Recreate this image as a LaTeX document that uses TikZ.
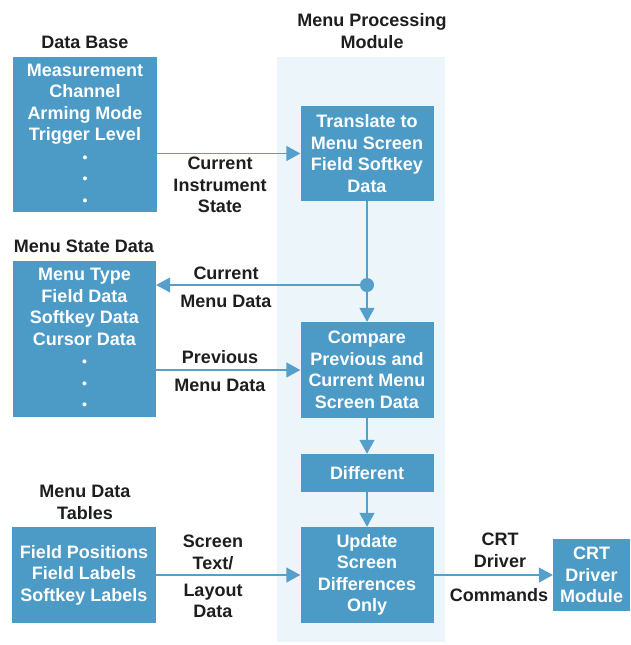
\documentclass[tikz,border=0pt]{standalone}
\usepackage{fontspec}
\setmainfont{Liberation Sans}
\usetikzlibrary{arrows.meta,positioning,calc}
\definecolor{hpblue}{RGB}{76,154,198}
\definecolor{hpline}{RGB}{84,160,202}
\definecolor{hppanel}{RGB}{236,245,250}
\definecolor{hpink}{RGB}{30,30,30}

\tikzset{
  blk/.style={fill=hpblue,text=white,align=center,inner sep=0pt,
    font=\fontsize{18}{21.5}\selectfont\bfseries},
  lbl/.style={text=hpink,align=center,inner sep=0pt,
    font=\fontsize{18}{21.5}\selectfont\bfseries},
  flow/.style={hpline,line width=1.4pt,-{Triangle[length=14pt,width=15pt]}},
}
\newcommand{\vdot}{{\fontsize{14}{21.5}\selectfont\textbullet}}

\begin{document}
\begin{tikzpicture}[x=1pt,y=-1pt]
    \useasboundingbox (0,0) rectangle (631,645);
    % module panel
    \fill[hppanel] (277,57) rectangle (445,642);
    \node[lbl] (modtitle) at (372,31) {Menu Processing\\Module};

    % data stores on the left
    \node[lbl] (dbtitle) at (85,42) {Data Base};
    \node[blk,minimum width=144pt,minimum height=155pt] (db) at (85,134.5)
      {Measurement\\Channel\\Arming Mode\\Trigger Level\\\vdot\\\vdot\\\vdot};
    \node[lbl] (msdtitle) at (84,246) {Menu State Data};
    \node[blk,minimum width=143pt,minimum height=156pt] (msd) at (84.5,339)
      {Menu Type\\Field Data\\Softkey Data\\Cursor Data\\\vdot\\\vdot\\\vdot};
    \node[lbl] (mdttitle) at (85,502.5) {Menu Data\\Tables};
    \node[blk,minimum width=144pt,minimum height=96pt] (mdt) at (84,575)
      {Field Positions\\Field Labels\\Softkey Labels};

    % processing steps
    \node[blk,minimum width=133pt,minimum height=95pt] (tr) at (367,153.5)
      {Translate to\\Menu Screen\\Field Softkey\\Data};
    \node[blk,minimum width=133pt,minimum height=96pt] (cmp) at (367,370)
      {Compare\\Previous and\\Current Menu\\Screen Data};
    \node[blk,minimum width=133pt,minimum height=38pt] (diff) at (367,473)
      {Different};
    \node[blk,minimum width=133pt,minimum height=96pt] (upd) at (367,575)
      {Update\\Screen\\Differences\\Only};
    \node[blk,minimum width=77pt,minimum height=72pt] (crt) at (591.5,575)
      {CRT\\Driver\\Module};

    % connectors
    \coordinate (split) at (367,285);
    \draw[flow] (db.east |- tr.west) -- (tr.west);
    \node[lbl,anchor=north] (cislbl) at (220,157) {Current\\Instrument\\State};
    \draw[hpline,line width=1.4pt] (tr.south) -- (split);
    \draw[flow] (split) -- (cmp.north);
    \draw[flow] (split) -- (msd.east |- split);
    \fill[hpline] (split) circle (7pt);
    \node[lbl] (cmdup) at (226,273) {Current};
    \node[lbl] (cmdlo) at (226,301) {Menu Data};
    \draw[flow] (msd.east |- cmp.west) -- (cmp.west);
    \node[lbl] (pmdup) at (220,357) {Previous};
    \node[lbl] (pmdlo) at (220,385) {Menu Data};
    \draw[flow] (cmp.south) -- (diff.north);
    \draw[flow] (diff.south) -- (upd.north);
    \draw[flow] (mdt.east) -- (upd.west);
    \node[lbl] (stlup) at (213,552.5) {Screen\\Text/};
    \node[lbl] (stllo) at (213,601) {Layout\\Data};
    \draw[flow] (upd.east) -- (crt.west);
    \node[lbl] (crtup) at (500,550.5) {CRT\\Driver};
    \node[lbl] (crtlo) at (499,595) {Commands};
  \end{tikzpicture}
\end{document}
